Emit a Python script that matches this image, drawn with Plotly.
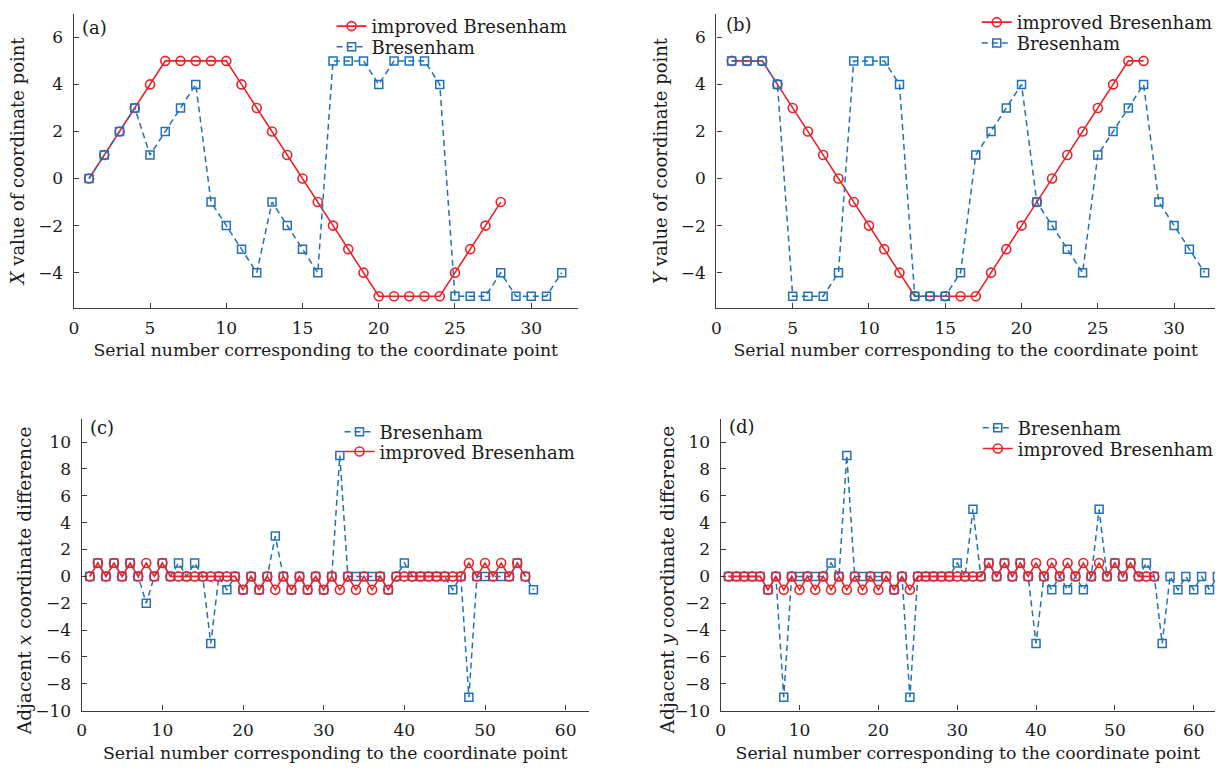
import plotly.graph_objects as go

# ---------------- data ----------------
a_improved = [0, 1, 2, 3, 4, 5, 5, 5, 5, 5, 4, 3, 2, 1, 0, -1, -2, -3, -4, -5, -5, -5, -5, -5, -4, -3, -2, -1]
a_bresenham = [0, 1, 2, 3, 1, 2, 3, 4, -1, -2, -3, -4, -1, -2, -3, -4, 5, 5, 5, 4, 5, 5, 5, 4, -5, -5, -5, -4, -5, -5, -5, -4]

b_improved = [5, 5, 5, 4, 3, 2, 1, 0, -1, -2, -3, -4, -5, -5, -5, -5, -5, -4, -3, -2, -1, 0, 1, 2, 3, 4, 5, 5]
b_bresenham = [5, 5, 5, 4, -5, -5, -5, -4, 5, 5, 5, 4, -5, -5, -5, -4, 1, 2, 3, 4, -1, -2, -3, -4, 1, 2, 3, 4, -1, -2, -3, -4]

c_bresenham = [0, 1, 0, 1, 0, 1, 0, -2, 0, 1, 0, 1, 0, 1, 0, -5, 0, -1, 0, -1,
               0, -1, 0, 3, 0, -1, 0, -1, 0, -1, 0, 9, 0, 0, 0, 0, 0, -1, 0, 1,
               0, 0, 0, 0, 0, -1, 0, -9, 0, 0, 0, 0, 0, 1, 0, -1]
c_improved = [0, 1, 0, 1, 0, 1, 0, 1, 0, 1, 0, 0, 0, 0, 0, 0, 0, 0, 0, -1,
              0, -1, 0, -1, 0, -1, 0, -1, 0, -1, 0, -1, 0, -1, 0, -1, 0, -1, 0, 0,
              0, 0, 0, 0, 0, 0, 0, 1, 0, 1, 0, 1, 0, 1, 0]

d_bresenham = [0, 0, 0, 0, 0, -1, 0, -9, 0, 0, 0, 0, 0, 1, 0, 9, 0, 0, 0, 0,
               0, -1, 0, -9, 0, 0, 0, 0, 0, 1, 0, 5, 0, 1, 0, 1, 0, 1, 0, -5,
               0, -1, 0, -1, 0, -1, 0, 5, 0, 1, 0, 1, 0, 1, 0, -5, 0, -1, 0, -1,
               0, -1, 0]
d_improved = [0, 0, 0, 0, 0, -1, 0, -1, 0, -1, 0, -1, 0, -1, 0, -1, 0, -1, 0, -1,
              0, -1, 0, -1, 0, 0, 0, 0, 0, 0, 0, 0, 0, 1, 0, 1, 0, 1, 0, 1,
              0, 1, 0, 1, 0, 1, 0, 1, 0, 1, 0, 1, 0, 0, 0]

x_title = "Serial number corresponding to the coordinate point"
y_titles = ["<i>X</i> value of coordinate point", "<i>Y</i> value of coordinate point",
            "Adjacent <i>x</i> coordinate difference", "Adjacent <i>y</i> coordinate difference"]
panel_labels = ["(a)", "(b)", "(c)", "(d)"]
name_imp = "improved Bresenham"
name_bre = "Bresenham"

# ---------------- style ----------------
W, H = 1219, 771
RED = "#ee2229"
BLUE = "#2270b8"
FONT = "DejaVu Serif"
TXT = "#1a1a1a"
AX = "#3c3c3c"


def px(v):
    return v / W


def py(v):
    return 1 - v / H


fig = go.Figure()


def imp_trace(y, xa, ya, leg):
    return go.Scatter(x=list(range(1, len(y) + 1)), y=y, name=name_imp, mode="lines+markers",
                      line=dict(color=RED, width=1.6),
                      marker=dict(symbol="circle-open", size=9, color=RED, line=dict(width=1.6)),
                      xaxis=xa, yaxis=ya, legend=leg)


def bre_trace(y, xa, ya, leg):
    return go.Scatter(x=list(range(1, len(y) + 1)), y=y, name=name_bre, mode="lines+markers",
                      line=dict(color=BLUE, width=1.5, dash="6px,4px"),
                      marker=dict(symbol="square-open", size=8, color=BLUE, line=dict(width=1.5)),
                      xaxis=xa, yaxis=ya, legend=leg)


# one legend per entry so that row spacing can match the reference
fig.add_trace(imp_trace(a_improved, "x", "y", "legend"))
fig.add_trace(bre_trace(a_bresenham, "x", "y", "legend2"))
fig.add_trace(imp_trace(b_improved, "x2", "y2", "legend3"))
fig.add_trace(bre_trace(b_bresenham, "x2", "y2", "legend4"))
fig.add_trace(bre_trace(c_bresenham, "x3", "y3", "legend5"))
fig.add_trace(imp_trace(c_improved, "x3", "y3", "legend6"))
fig.add_trace(bre_trace(d_bresenham, "x4", "y4", "legend7"))
fig.add_trace(imp_trace(d_improved, "x4", "y4", "legend8"))

# pixel boxes: left, right, top, bottom
boxes = [(69.3, 577, 14, 312), (716.7, 1219, 14, 312), (77.3, 588, 424, 720), (721, 1219, 424, 720)]
xranges = [[0, 33.05], [0, 32.68], [0, 62.85], [0, 62.7]]
yranges = [[-5.5, 7.0], [-5.5, 7.0], [-10, 11.76], [-10, 11.76]]
xticks = [[0, 5, 10, 15, 20, 25, 30]] * 2 + [[0, 10, 20, 30, 40, 50, 60]] * 2
yticks = [[-4, -2, 0, 2, 4, 6]] * 2 + [list(range(-10, 11, 2))] * 2

tickfont = dict(family=FONT, size=17, color=TXT)
xtitlefont = dict(family=FONT, size=17.3, color=TXT)
ytitlefont = dict(family=FONT, size=18, color=TXT)

layout = dict(width=W, height=H, margin=dict(l=0, r=0, t=0, b=0),
              paper_bgcolor="white", plot_bgcolor="white", showlegend=True)

annotations = []
for i, (l, r, t, b) in enumerate(boxes):
    sfx = "" if i == 0 else str(i + 1)
    layout["xaxis" + sfx] = dict(domain=[px(l), px(r)], range=xranges[i], anchor="y" + sfx,
                                 tickvals=xticks[i], ticks="inside", ticklen=5, tickwidth=1.2,
                                 tickcolor=AX, showline=True, linecolor=AX, linewidth=1.4,
                                 showgrid=False, zeroline=False, tickfont=tickfont,
                                 ticklabelstandoff=4,
                                 title=dict(text=x_title, font=xtitlefont, standoff=7))
    ydict = dict(domain=[py(b), py(t)], range=yranges[i], anchor="x" + sfx,
                 tickvals=yticks[i], ticks="inside", ticklen=5, tickwidth=1.2,
                 tickcolor=AX, showline=True, linecolor=AX, linewidth=1.4,
                 showgrid=False, zeroline=False, tickfont=tickfont,
                 ticklabelstandoff=6)
    if i < 2:
        ydict["title"] = dict(text=y_titles[i], font=ytitlefont, standoff=8)
    layout["yaxis" + sfx] = ydict

# lower panels: y titles sit a little below the centre of the axis in the reference
for (cx, cy), txt in zip([(20, 588), (667, 588)], y_titles[2:]):
    annotations.append(dict(text=txt, x=px(cx), y=py(cy), xref="paper", yref="paper",
                            xanchor="center", yanchor="middle", textangle=-90, showarrow=False,
                            font=dict(family=FONT, size=18.6, color=TXT)))

# (text-start x, row centre y) for each legend entry
legend_rows = [(372, 22), (372, 43), (1022, 18), (1022, 39),
               (380, 433), (380, 453), (1023, 429), (1023, 450)]
for i, (tx, cy) in enumerate(legend_rows):
    key = "legend" if i == 0 else "legend" + str(i + 1)
    layout[key] = dict(x=px(tx - 43), y=py(cy - 14), xanchor="left", yanchor="top",
                       bgcolor="rgba(0,0,0,0)", borderwidth=0,
                       font=dict(family=FONT, size=18, color=TXT),
                       itemwidth=30, tracegroupgap=0)

label_pos = [(76, 28), (724, 25), (84, 433), (727, 432)]
for (lx, ly), lab in zip(label_pos, panel_labels):
    annotations.append(dict(text=lab, x=px(lx), y=py(ly), xref="paper", yref="paper",
                            xanchor="left", yanchor="middle", showarrow=False,
                            font=dict(family=FONT, size=18, color=TXT)))
layout["annotations"] = annotations

fig.update_layout(**layout)
fig.write_html("out.html")
